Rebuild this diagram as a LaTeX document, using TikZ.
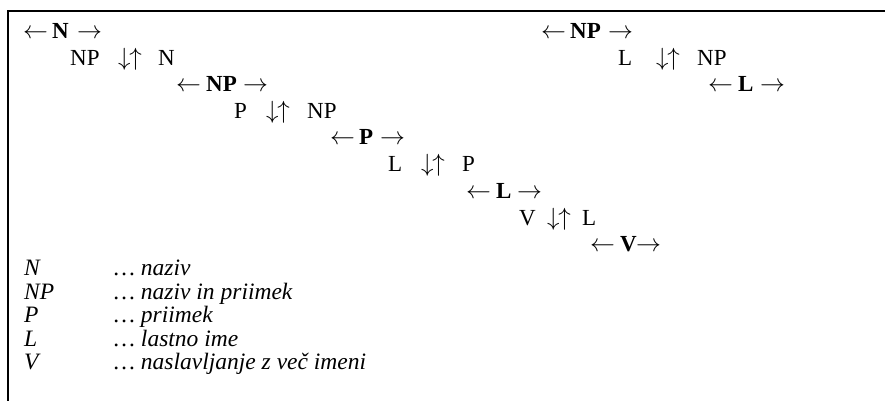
\documentclass[tikz,border=0pt]{standalone}
\usepackage{fontspec}
\setmainfont{Liberation Serif}
\newcommand{\la}{$\leftarrow$}
\newcommand{\ra}{$\rightarrow$}
\newcommand{\du}{$\downarrow\mkern-1mu\uparrow$}
\begin{document}
\begin{tikzpicture}[x=1pt,y=-1pt,
  tok/.style={anchor=base west, inner sep=0pt, font=\fontsize{23}{27}\selectfont},
  head/.style={tok, font=\fontsize{23}{27}\selectfont\bfseries},
  key/.style={tok, font=\fontsize{23.5}{27}\selectfont\itshape}]
\useasboundingbox (0,0) rectangle (885,400);
% open frame: left and top edges
\draw[line width=1.4pt] (8,401) -- (8,11) -- (886,11);

% left cascade
\node[tok]  (r1a) at (23,38.5)  {\la};
\node[head] (r1b) at (52,38.5)  {N};
\node[tok]  (r1c) at (77,38.5)  {\ra};
\node[tok]  (r2a) at (70,65) {NP};
\node[tok]  (r2b) at (118,65) {\du};
\node[tok]  (r2c) at (158,65) {N};
\node[tok]  (r3a) at (176,91.5) {\la};
\node[head] (r3b) at (206,91.5) {NP};
\node[tok]  (r3c) at (243,91.5) {\ra};
\node[tok]  (r4a) at (234,118) {P};
\node[tok]  (r4b) at (266,118) {\du};
\node[tok]  (r4c) at (307,118) {NP};
\node[tok]  (r5a) at (330,144.5) {\la};
\node[head] (r5b) at (359,144.5) {P};
\node[tok]  (r5c) at (380,144.5) {\ra};
\node[tok]  (r6a) at (388,171.5) {L};
\node[tok]  (r6b) at (421,171.5) {\du};
\node[tok]  (r6c) at (462,171.5) {P};
\node[tok]  (r7a) at (466,198) {\la};
\node[head] (r7b) at (496,198) {L};
\node[tok]  (r7c) at (517,198) {\ra};
\node[tok]  (r8a) at (519,225) {V};
\node[tok]  (r8b) at (547,225) {\du};
\node[tok]  (r8c) at (582,225) {L};
\node[tok]  (r9a) at (590,251.5) {\la};
\node[head] (r9b) at (620,251.5) {V};
\node[tok]  (r9c) at (636,251.5) {\ra};

% right cascade
\node[tok]  (s1a) at (541,38.5)  {\la};
\node[head] (s1b) at (570,38.5)  {NP};
\node[tok]  (s1c) at (608,38.5)  {\ra};
\node[tok]  (s2a) at (618,65) {L};
\node[tok]  (s2b) at (656,65) {\du};
\node[tok]  (s2c) at (697,65) {NP};
\node[tok]  (s3a) at (708,91.5) {\la};
\node[head] (s3b) at (738,91.5) {L};
\node[tok]  (s3c) at (760,91.5) {\ra};

% legend
\node[key] (k1) at (24,275.5) {N};
\node[key] (k2) at (24,299)   {NP};
\node[key] (k3) at (24,322.5) {P};
\node[key] (k4) at (24,346)   {L};
\node[key] (k5) at (24,369.5) {V};
\node[key] (d1) at (114,275.5) {… naziv};
\node[key] (d2) at (114,299)   {… naziv in priimek};
\node[key] (d3) at (114,322.5) {… priimek};
\node[key] (d4) at (114,346)   {… lastno ime};
\node[key] (d5) at (114,369.5) {… naslavljanje z več imeni};
\end{tikzpicture}
\end{document}
